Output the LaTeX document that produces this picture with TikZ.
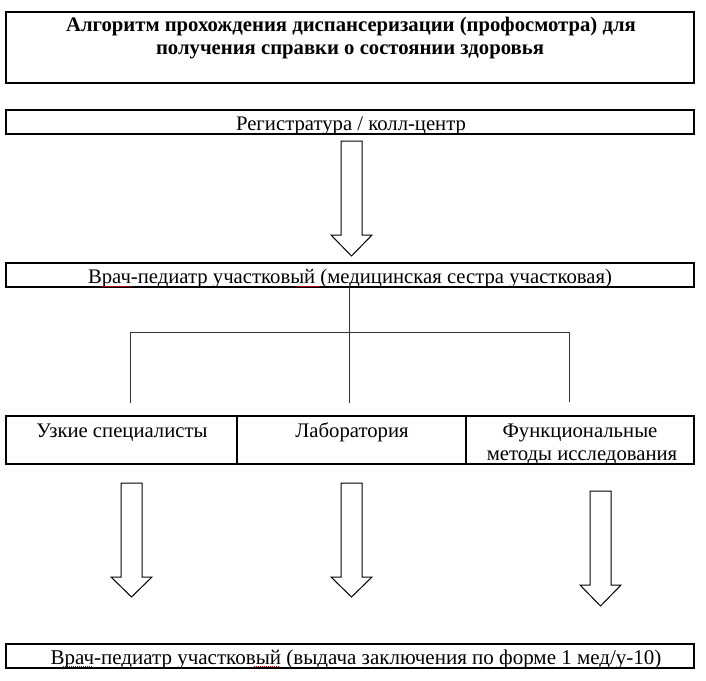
\documentclass[tikz,border=0pt]{standalone}
\usepackage{fontspec}
\setmainfont{Liberation Serif}
\begin{document}
\begin{tikzpicture}[x=1pt,y=-1pt,
  box/.style={draw=black,line width=1.2pt,minimum height=#1,inner sep=0pt,outer sep=0pt},
  txt/.style={anchor=base,inner sep=0pt,font=\fontsize{20.7}{22}\selectfont},
  ttl/.style={anchor=base,inner sep=0pt,font=\fontsize{20.7}{22}\selectfont\bfseries},
  conn/.style={draw=black!80,line width=0.9pt},
  blockarrow/.style={draw=black,line width=1pt,fill=white,line join=miter},
  squig/.style={draw=red!75!black,line width=0.9pt,dash pattern=on 1pt off 1pt}]
\useasboundingbox (0,0) rectangle (706,680);
% boxes
\node[box=71pt,minimum width=688pt] (title) at (350,47.5) {};
\node[box=24pt,minimum width=688pt] (reg) at (350,122) {};
\node[box=24pt,minimum width=688pt] (vr) at (350,275) {};
\node[box=48pt,minimum width=231pt] (c1) at (121.5,440) {};
\node[box=48pt,minimum width=229pt] (c2) at (351.5,440) {};
\node[box=48pt,minimum width=228pt] (c3) at (580,440) {};
\node[box=24pt,minimum width=688pt] (fin) at (350,656) {};
% texts
\node[ttl] (t1) at (351,31) {Алгоритм прохождения диспансеризации (профосмотра) для};
\node[ttl] (t2) at (350,54) {получения справки о состоянии здоровья};
\node[txt] (treg) at (351,130.5) {Регистратура / колл-центр};
\node[txt] (tvr) at (350,283.5) {Врач-педиатр участковый (медицинская сестра участковая)};
\node[txt] (tc1) at (122,437.5) {Узкие специалисты};
\node[txt] (tc2) at (352,437.5) {Лаборатория};
\node[txt] (tc3a) at (580,437.5) {Функциональные};
\node[txt] (tc3b) at (582,460.5) {методы исследования};
\node[txt,font=\fontsize{21}{22}\selectfont] (tfin) at (356,664) {Врач-педиатр участковый (выдача заключения по форме 1 мед/у-10)};
% spell-check marks
\draw[squig] (102,286) -- (132,286);
\draw[squig] (296,286) -- (320,286);
\draw[squig] (63,666.5) -- (93,666.5);
\draw[squig] (254,666.5) -- (280,666.5);
% tree connectors
\coordinate (top) at (349,287);
\coordinate (mid) at (349,403);
\coordinate (hl) at (130,332);
\coordinate (hr) at (569,332);
\coordinate (ll) at (130,403);
\coordinate (rr) at (569,402);
\draw[conn] (top) -- (mid);
\draw[conn] (hl) -- (hr);
\draw[conn] (hl) -- (ll);
\draw[conn] (hr) -- (rr);
% block arrows
\draw[blockarrow] (341,141) -- (362,141) -- (362,235) -- (372,235) -- (351.5,256) -- (331,235) -- (341,235) -- cycle;
\draw[blockarrow] (121,483) -- (142,483) -- (142,577) -- (152,577) -- (131.5,597) -- (111,577) -- (121,577) -- cycle;
\draw[blockarrow] (341,483) -- (362,483) -- (362,577) -- (372,577) -- (351.5,597) -- (331,577) -- (341,577) -- cycle;
\draw[blockarrow] (590,491) -- (611,491) -- (611,585) -- (621,585) -- (600.5,606) -- (580,585) -- (590,585) -- cycle;
\end{tikzpicture}
\end{document}
